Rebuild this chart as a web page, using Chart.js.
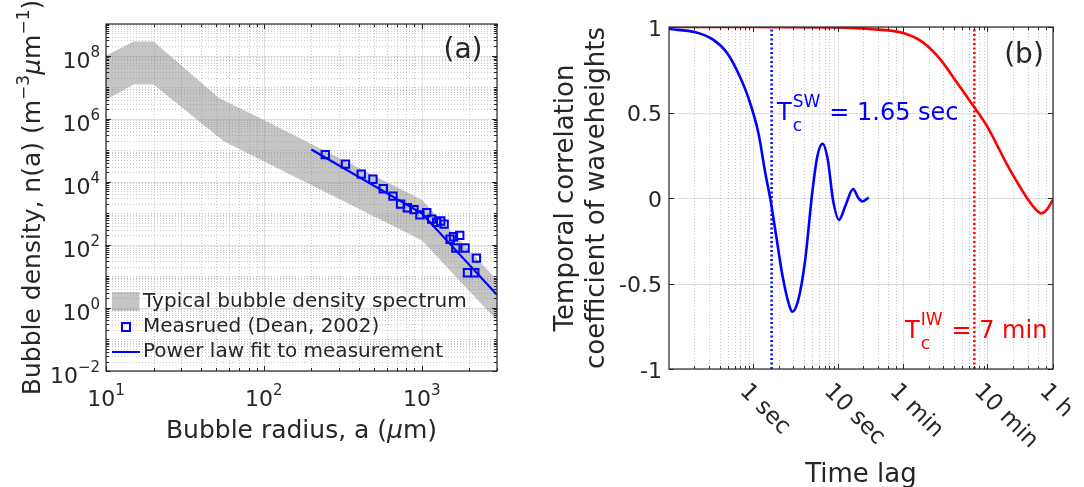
<!DOCTYPE html>
<html>
<head>
<meta charset="utf-8">
<script src="https://cdn.jsdelivr.net/npm/chart.js@4.4.0/dist/chart.umd.min.js"></script>
<style>
  html, body { margin: 0; padding: 0; background: #fff; }
  #wrap { position: relative; width: 1084px; height: 487px; }
  canvas { position: absolute; top: 0; }
  #bubbleChart { left: 0; }
  #corrChart { left: 540px; }
</style>
</head>
<body>
<div id="wrap">
  <canvas id="bubbleChart" width="540" height="487"></canvas>
  <canvas id="corrChart" width="544" height="487"></canvas>
</div>
<script>
// ---- panel (a): bubble density vs radius ----
const bandUpperX = [10, 15, 20, 52, 100, 1000, 3000];
const bandUpperY = [1.0e8, 2.8e8, 2.8e8, 4.5e6, 9e5, 2.7e3, 7.7];
const bandLowerX = [10, 15, 20, 56, 1000, 3000];
const bandLowerY = [4e6, 1.2e7, 1.2e7, 1.9e5, 1.4e2, 0.4];

const measX = [245, 329, 414, 491, 571, 658, 735, 811, 893, 975, 1076, 1157, 1245, 1320, 1387, 1514, 1590, 1742, 1645, 1883, 1950, 2170, 2222];
const measY = [7.2e4, 3.6e4, 1.75e4, 1.2e4, 6e3, 3.5e3, 1.95e3, 1.5e3, 1.3e3, 890, 1050, 650, 520, 570, 455, 150, 180, 200, 79, 79, 13, 13, 38];

const fitX = [200, 1000, 3000];
const fitY = [1.05e5, 1.0e3, 2.6];

const radiusTicks = [10, 100, 1000];
const radiusExp = ['1', '2', '3'];
const densityTicks = [1e-2, 1, 1e2, 1e4, 1e6, 1e8];
const densityExp = ['\u22122', '0', '2', '4', '6', '8'];

// ---- panel (b): temporal correlation vs time lag (seconds) ----
const lagBlue = [0.1, 0.207, 0.334, 0.489, 0.649, 0.863, 1.15, 1.39, 1.6, 1.85, 2.23, 2.7, 2.9, 3.42, 4.13, 5.0, 5.75, 6.64, 7.66, 8.83, 10.4, 12.3, 15.3, 17.7, 19.8, 23.5];
const corrBlue = [0.988, 0.969, 0.926, 0.848, 0.74, 0.594, 0.38, 0.145, -0.011, -0.206, -0.459, -0.635, -0.665, -0.596, -0.362, 0.028, 0.243, 0.317, 0.223, -0.011, -0.128, -0.05, 0.052, -0.001, -0.02, 0.003];

const lagRed = [0.1, 1, 9, 24, 60, 99, 160, 257, 413, 593, 1067, 1714, 2140, 2630, 3020, 3600];
const corrRed = [1.0, 1.0, 0.998, 0.988, 0.965, 0.916, 0.82, 0.68, 0.535, 0.42, 0.18, 0.01, -0.055, -0.09, -0.07, -0.01];

const TC_SW = 1.65;   // sec
const TC_IW = 420;    // 7 min in sec

const lagTicks = [1, 10, 60, 600, 3600];
const lagLabels = ['1 sec', '10 sec', '1 min', '10 min', '1 h'];
const lagMinor = [0.2, 0.3, 0.4, 0.5, 0.6, 0.7, 0.8, 0.9, 2, 3, 4, 5, 6, 7, 8, 9, 20, 30, 40, 50,
                  120, 180, 240, 300, 360, 420, 480, 540, 1200, 1800, 2400, 3000];
const corrTicks = [-1, -0.5, 0, 0.5, 1];
const corrLabels = ['-1', '-0.5', '0', '0.5', '1'];

const FONT = '"DejaVu Sans", sans-serif';
const INK = '#262626';
const BLUE = '#0000ff';
const RED = '#ff0000';
const BAND = 'rgba(140,140,140,0.5)';

const pts = (xs, ys) => xs.map((v, i) => ({ x: v, y: ys[i] }));
const font = (px, style) => (style || '') + ' ' + px + 'px ' + FONT;

// all m*10^k between min and max (grid positions on log axes)
function logGrid(min, max) {
  const out = [];
  for (let k = Math.floor(Math.log10(min)); k <= Math.ceil(Math.log10(max)); k++) {
    for (let m = 1; m <= 9; m++) {
      const v = m * Math.pow(10, k);
      if (v >= min * 0.999 && v <= max * 1.001) out.push(v);
    }
  }
  return out;
}

function seg(ctx, x1, y1, x2, y2) {
  ctx.beginPath();
  ctx.moveTo(x1, y1);
  ctx.lineTo(x2, y2);
  ctx.stroke();
}

function drawGrid(chart, xMajor, xMinor, yMajor, yMinor) {
  const { ctx, chartArea: a, scales: { x, y } } = chart;
  ctx.save();
  ctx.lineWidth = 1;
  ctx.setLineDash([1, 2]);
  ctx.strokeStyle = 'rgba(38,38,38,0.25)';
  xMinor.forEach(v => { const p = Math.round(x.getPixelForValue(v)) + 0.5; seg(ctx, p, a.top, p, a.bottom); });
  yMinor.forEach(v => { const p = Math.round(y.getPixelForValue(v)) + 0.5; seg(ctx, a.left, p, a.right, p); });
  ctx.setLineDash([]);
  ctx.strokeStyle = 'rgba(38,38,38,0.15)';
  xMajor.forEach(v => { const p = Math.round(x.getPixelForValue(v)) + 0.5; seg(ctx, p, a.top, p, a.bottom); });
  yMajor.forEach(v => { const p = Math.round(y.getPixelForValue(v)) + 0.5; seg(ctx, a.left, p, a.right, p); });
  ctx.restore();
}

function drawBox(chart, xMajor, xMinor, yMajor, yMinor) {
  const { ctx, chartArea: a, scales: { x, y } } = chart;
  ctx.save();
  ctx.strokeStyle = INK;
  ctx.lineWidth = 1;
  const tick = (vals, len) => {
    vals.forEach(v => {
      const p = Math.round(x.getPixelForValue(v)) + 0.5;
      seg(ctx, p, a.bottom, p, a.bottom - len);
      seg(ctx, p, a.top, p, a.top + len);
    });
  };
  const ytick = (vals, len) => {
    vals.forEach(v => {
      const p = Math.round(y.getPixelForValue(v)) + 0.5;
      seg(ctx, a.left, p, a.left + len, p);
      seg(ctx, a.right, p, a.right - len, p);
    });
  };
  tick(xMinor, 3); tick(xMajor, 5);
  ytick(yMinor, 3); ytick(yMajor, 5);
  ctx.lineWidth = 1.2;
  ctx.strokeRect(a.left, a.top, a.right - a.left, a.bottom - a.top);
  ctx.restore();
}

// text made of pieces with their own size / vertical shift
function drawRich(ctx, parts, x, y, align) {
  let w = 0;
  parts.forEach(p => { ctx.font = font(p.size, p.italic ? 'italic' : ''); p.w = ctx.measureText(p.text).width; w += p.w; });
  let cx = align === 'center' ? x - w / 2 : align === 'right' ? x - w : x;
  ctx.textAlign = 'left';
  parts.forEach(p => {
    ctx.font = font(p.size, p.italic ? 'italic' : '');
    ctx.fillText(p.text, cx, y + (p.dy || 0));
    cx += p.w;
  });
}

// T with subscript and superscript stacked, then the rest
function drawTc(ctx, sup, rest, x, y, color) {
  ctx.save();
  ctx.fillStyle = color;
  ctx.textAlign = 'left';
  ctx.textBaseline = 'alphabetic';
  ctx.font = font(24);
  ctx.fillText('T', x, y);
  let cx = x + ctx.measureText('T').width + 1;
  ctx.font = font(17);
  ctx.fillText('c', cx, y + 11);
  ctx.fillText(sup, cx, y - 13);
  cx += Math.max(ctx.measureText('c').width, ctx.measureText(sup).width) + 9;
  ctx.font = font(24);
  ctx.fillText(rest, cx, y);
  ctx.restore();
}

const bubbleDecor = {
  id: 'bubbleDecor',
  beforeDatasetsDraw(chart) {
    drawGrid(chart, radiusTicks, logGrid(10, 3000).filter(v => !radiusTicks.includes(v)),
      densityTicks, logGrid(1e-2, 1e9).filter(v => !densityTicks.includes(v)));
  },
  afterDatasetsDraw(chart) {
    const { ctx, chartArea: a, scales: { x, y } } = chart;
    drawBox(chart, radiusTicks, logGrid(10, 3000).filter(v => !radiusTicks.includes(v)),
      densityTicks, logGrid(1e-2, 1e9).filter(v => !densityTicks.includes(v)));
    ctx.save();
    ctx.fillStyle = INK;
    ctx.textBaseline = 'alphabetic';
    radiusTicks.forEach((v, i) => {
      drawRich(ctx, [{ text: '10', size: 22 }, { text: radiusExp[i], size: 15, dy: -11 }],
        x.getPixelForValue(v), a.bottom + 35, 'center');
    });
    densityTicks.forEach((v, i) => {
      drawRich(ctx, [{ text: '10', size: 22 }, { text: densityExp[i], size: 15, dy: -11 }],
        a.left - 6, y.getPixelForValue(v) + 12, 'right');
    });
    // axis titles
    drawRich(ctx, [{ text: 'Bubble radius, a (', size: 25 }, { text: '\u03bc', size: 25, italic: true },
      { text: 'm)', size: 25 }], (a.left + a.right) / 2, 438, 'center');
    ctx.save();
    ctx.translate(40, (a.top + a.bottom) / 2);
    ctx.rotate(-Math.PI / 2);
    drawRich(ctx, [{ text: 'Bubble density, n(a) (m', size: 25 }, { text: '\u22123', size: 17, dy: -11 },
      { text: '\u03bc', size: 25, italic: true }, { text: 'm', size: 25 }, { text: '\u22121', size: 17, dy: -11 },
      { text: ')', size: 25 }], 0, 0, 'center');
    ctx.restore();
    // panel label
    ctx.font = font(28);
    ctx.textAlign = 'center';
    ctx.textBaseline = 'middle';
    ctx.fillText('(a)', 463, 51);
    // legend
    ctx.fillStyle = BAND;
    ctx.fillRect(112, 292, 27.5, 19);
    ctx.strokeStyle = BLUE;
    ctx.lineWidth = 2;
    ctx.strokeRect(122, 323, 8, 8);
    seg(ctx, 112, 352, 140, 352);
    ctx.fillStyle = INK;
    ctx.font = font(20);
    ctx.textAlign = 'left';
    ctx.fillText('Typical bubble density spectrum', 143, 302);
    ctx.fillText('Measrued (Dean, 2002)', 143, 327);
    ctx.fillText('Power law fit to measurement', 143, 352);
    ctx.restore();
  }
};

const corrDecor = {
  id: 'corrDecor',
  beforeDatasetsDraw(chart) {
    drawGrid(chart, lagTicks, lagMinor, corrTicks, []);
  },
  afterDatasetsDraw(chart) {
    const { ctx, chartArea: a, scales: { x, y } } = chart;
    drawBox(chart, lagTicks, lagMinor, corrTicks, []);
    ctx.save();
    ctx.fillStyle = INK;
    ctx.font = font(22);
    ctx.textAlign = 'right';
    ctx.textBaseline = 'alphabetic';
    corrTicks.forEach((v, i) => ctx.fillText(corrLabels[i], a.left - 7, y.getPixelForValue(v) + 8.5));
    ctx.font = font(23);
    ctx.textAlign = 'left';
    ctx.textBaseline = 'middle';
    lagTicks.forEach((v, i) => {
      ctx.save();
      ctx.translate(x.getPixelForValue(v) - 10, a.bottom + 19);
      ctx.rotate(Math.PI / 4);
      ctx.fillText(lagLabels[i], 0, 0);
      ctx.restore();
    });
    ctx.textAlign = 'center';
    ctx.textBaseline = 'alphabetic';
    ctx.font = font(26);
    ctx.fillText('Time lag', (a.left + a.right) / 2, 482);
    ctx.save();
    ctx.translate(0, (a.top + a.bottom) / 2);
    ctx.rotate(-Math.PI / 2);
    ctx.fillText('Temporal correlation', 0, 33);
    ctx.fillText('coefficient of waveheights', 0, 64);
    ctx.restore();
    ctx.font = font(28);
    ctx.textBaseline = 'middle';
    ctx.fillText('(b)', 484, 56);
    ctx.restore();
    drawTc(ctx, 'SW', '= 1.65 sec', 237, 120, BLUE);
    drawTc(ctx, 'IW', '= 7 min', 365, 338, RED);
  }
};

new Chart(document.getElementById('bubbleChart'), {
  type: 'line',
  data: {
    datasets: [
      { label: 'Power law fit to measurement', data: pts(fitX, fitY), borderColor: BLUE, borderWidth: 2.2,
        pointRadius: 0, fill: false, order: 0 },
      { label: 'Measrued (Dean, 2002)', data: pts(measX, measY), showLine: false, pointStyle: 'rect',
        pointRadius: 5.2, pointBorderWidth: 2, borderColor: BLUE, backgroundColor: 'rgba(0,0,0,0)', order: 1 },
      { label: 'Typical bubble density spectrum', data: pts(bandUpperX, bandUpperY), fill: '+1',
        backgroundColor: BAND, borderWidth: 0, pointRadius: 0, order: 2 },
      { label: 'band lower', data: pts(bandLowerX, bandLowerY), fill: false, borderWidth: 0,
        pointRadius: 0, order: 2 }
    ]
  },
  options: {
    responsive: false,
    animation: false,
    devicePixelRatio: 1,
    layout: { padding: { left: 106, right: 43, top: 24, bottom: 116 } },
    plugins: { legend: { display: false }, tooltip: { enabled: false } },
    scales: {
      x: { type: 'logarithmic', min: 10, max: 3000, display: false },
      y: { type: 'logarithmic', min: 1e-2, max: 1e9, display: false }
    }
  },
  plugins: [bubbleDecor]
});

new Chart(document.getElementById('corrChart'), {
  type: 'line',
  data: {
    datasets: [
      { label: 'Tc IW', data: pts([TC_IW, TC_IW], [-1, 1]), borderColor: RED, borderWidth: 2.5,
        borderDash: [2, 2.5], pointRadius: 0, fill: false },
      { label: 'Tc SW', data: pts([TC_SW, TC_SW], [-1, 1]), borderColor: BLUE, borderWidth: 2.5,
        borderDash: [2, 2.5], pointRadius: 0, fill: false },
      { label: 'short waves', data: pts(lagBlue, corrBlue), borderColor: BLUE, borderWidth: 2.6,
        pointRadius: 0, fill: false, cubicInterpolationMode: 'monotone' },
      { label: 'infragravity waves', data: pts(lagRed, corrRed), borderColor: RED, borderWidth: 2.6,
        pointRadius: 0, fill: false, cubicInterpolationMode: 'monotone' }
    ]
  },
  options: {
    responsive: false,
    animation: false,
    devicePixelRatio: 1,
    layout: { padding: { left: 129, right: 31, top: 27, bottom: 118 } },
    plugins: { legend: { display: false }, tooltip: { enabled: false } },
    scales: {
      x: { type: 'logarithmic', min: 0.1, max: 3600, display: false },
      y: { type: 'linear', min: -1, max: 1, display: false }
    }
  },
  plugins: [corrDecor]
});
</script>
</body>
</html>
